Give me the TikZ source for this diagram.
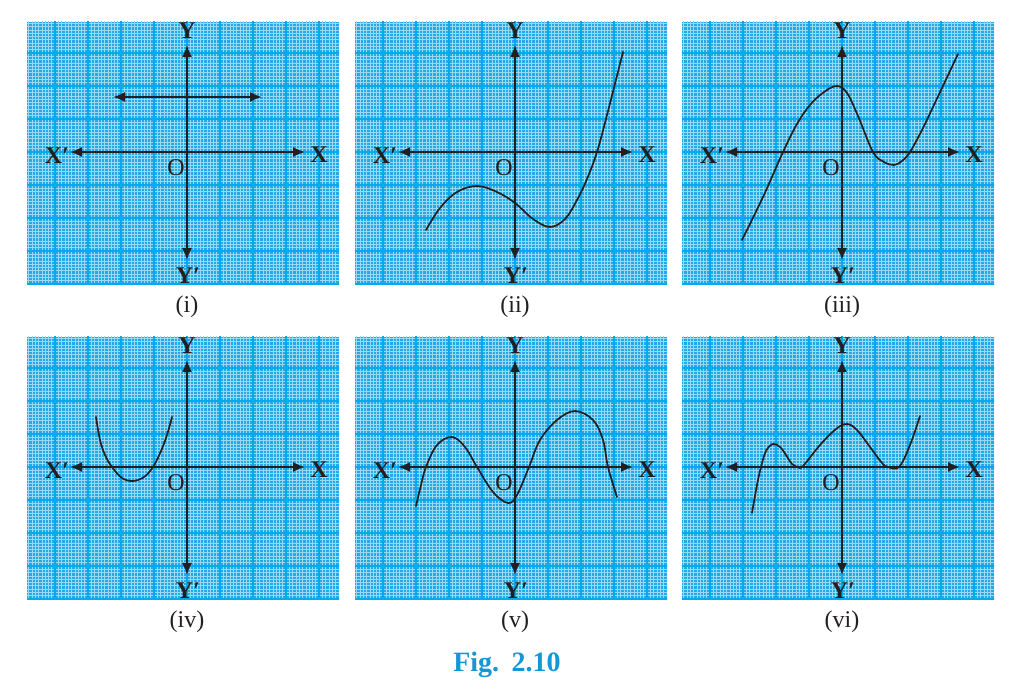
\documentclass[tikz,border=0pt]{standalone}
\usepackage{fontspec}
\setmainfont{Liberation Serif}
\usetikzlibrary{arrows.meta}
\definecolor{gridbg}{RGB}{38,168,230}
\definecolor{gridminor}{RGB}{150,218,245}
\definecolor{gridmajor}{RGB}{0,170,236}
\definecolor{figblue}{RGB}{20,150,215}
\definecolor{ink}{RGB}{35,31,32}
\tikzset{
  axisline/.style={line width=2pt, draw=ink, {Latex[length=12pt,width=10pt]}-{Latex[length=12pt,width=10pt]}},
  curveline/.style={line width=1.7pt, draw=ink, line cap=round, smooth, tension=0.6},
  axlabel/.style={font=\fontsize{24}{24}\selectfont\bfseries, text=ink, inner sep=0pt},
  olabel/.style={font=\fontsize{24}{24}\selectfont, text=ink, inner sep=0pt},
  caplabel/.style={font=\fontsize{24}{24}\selectfont, text=ink, inner sep=0pt},
}
\newcommand\graphpanel[4]{%
  \begin{scope}[shift={(#1,#2)}]
    \fill[gridbg] (-160,-133) rectangle (152,130);
    \begin{scope}
      \clip (-160,-133) rectangle (152,130);
      \draw[gridminor, line width=0.6pt] (-165,-165) grid[step=3.3] (165,165);
      \draw[gridmajor, line width=1.6pt] (-165,-165) grid[step=33] (165,165);
    \end{scope}
    \coordinate (#4xl) at (-117,0);
    \coordinate (#4xr) at (118,0);
    \coordinate (#4yt) at (0,107);
    \coordinate (#4yb) at (0,-108);
    \draw[axisline] (#4xl) -- (#4xr);
    \draw[axisline] (#4yb) -- (#4yt);
    \node[axlabel] (#4Y) at (0,121) {Y};
    \node[axlabel] (#4Yp) at (1,-124) {Y′};
    \node[axlabel] (#4Xp) at (-130,-4) {X′};
    \node[axlabel] (#4X) at (132,-3) {X};
    \node[olabel] (#4O) at (-11,-16) {O};
    \node[caplabel] (#4cap) at (0,-155) {#3};
  \end{scope}
}
\begin{document}
\begin{tikzpicture}[x=1pt,y=1pt]
\useasboundingbox (0,0) rectangle (1020,696);
\fill[white] (0,0) rectangle (1020,696);
% top row
\graphpanel{187}{544}{(i)}{pa}
\graphpanel{515}{544}{(ii)}{pb}
\graphpanel{842}{544}{(iii)}{pc}
% bottom row
\graphpanel{187}{229}{(iv)}{pd}
\graphpanel{515}{229}{(v)}{pe}
\graphpanel{842}{229}{(vi)}{pf}
% (i) horizontal line
\begin{scope}[shift={(187,544)}]
  \coordinate (hl) at (-74,55);
  \coordinate (hr) at (75,55);
  \draw[axisline] (hl) -- (hr);
\end{scope}
% (ii)
\begin{scope}[shift={(515,544)}]
  \draw[curveline] plot coordinates {(-89,-78) (-75,-56) (-58,-40) (-38,-34) (-18,-40) (0,-51) (18,-67) (35,-75) (50,-67) (62,-48) (72,-27) (82,0) (92,37) (108,100)};
\end{scope}
% (iii)
\begin{scope}[shift={(842,544)}]
  \draw[curveline] plot coordinates {(-100,-88) (-79,-45) (-59,0) (-45,28) (-32,47) (-18,60) (-5,66) (5,59) (16,36) (31,0) (42,-10) (52,-13) (60,-9) (68,0) (80,22) (91,45) (116,98)};
\end{scope}
% (iv)
\begin{scope}[shift={(187,229)}]
  \draw[curveline] plot coordinates {(-91,50) (-87,27) (-82,12) (-75,0) (-65,-11) (-54,-14) (-43,-10) (-34,0) (-26,16) (-20,32) (-15,50)};
\end{scope}
% (v)
\begin{scope}[shift={(515,229)}]
  \draw[curveline] plot coordinates {(-99,-39) (-94,-18) (-89,0) (-78,22) (-63,30) (-50,20) (-38,0) (-22,-25) (-7,-36) (2,-28) (14,0) (25,27) (42,47) (60,56) (78,47) (88,27) (93,0) (102,-30)};
\end{scope}
% (vi)
\begin{scope}[shift={(842,229)}]
  \draw[curveline] plot coordinates {(-90,-46) (-85,-18) (-81,0) (-76,16) (-69,23) (-62,20) (-56,12) (-50,3) (-44,0) (-39,1) (-22,22) (-6,38) (5,43) (15,37) (28,20) (40,4) (46,0) (57,0) (68,22) (78,51)};
\end{scope}
% caption
\node[font=\fontsize{28}{28}\selectfont\bfseries, text=figblue, inner sep=0pt] (figcap) at (507,31) {Fig.\hspace{0.45em}2.10};
\end{tikzpicture}
\end{document}
